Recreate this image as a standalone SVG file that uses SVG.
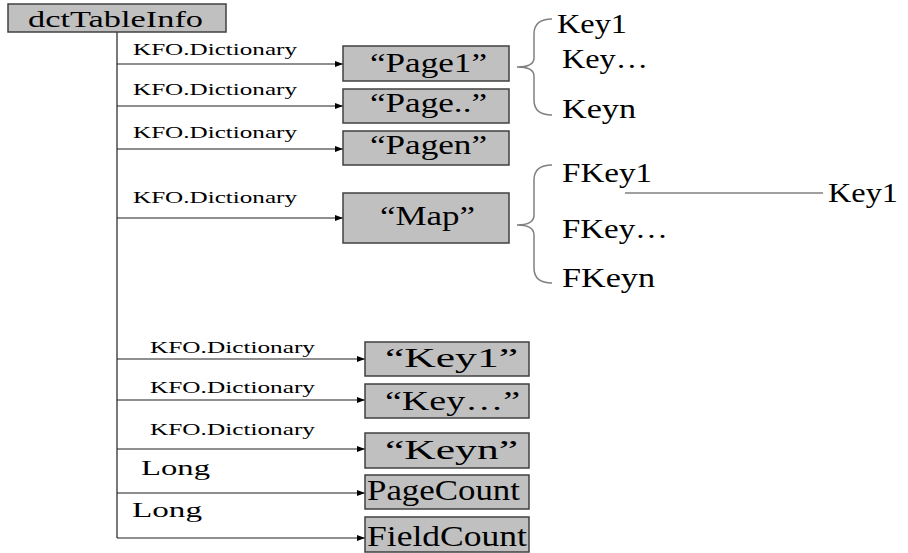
<svg xmlns="http://www.w3.org/2000/svg" width="908" height="553" viewBox="0 0 908 553">
<style>
text{font-family:'Liberation Serif','DejaVu Serif','Times New Roman',serif;fill:#000}
.box{fill:#c0c0c0;stroke:#404040;stroke-width:1.5}
.lbl{font-size:17px}
.big{font-size:27px}
.long{font-size:22px}
.cnt{font-size:29px}
.ln{stroke:#202020;stroke-width:1.2;fill:none}
.br{stroke:#808080;stroke-width:1.5;fill:none}
</style>
<defs>
<marker id="ah" markerWidth="8" markerHeight="6" refX="8" refY="3" orient="auto" markerUnits="userSpaceOnUse">
<path d="M0,0 L8,3 L0,6 Z" fill="#000"/>
</marker>
</defs>
<g id="connectors">
<line class="ln" x1="117" y1="32" x2="117" y2="538"/>
<line class="ln" x1="117" y1="64" x2="343" y2="64" marker-end="url(#ah)"/>
<line class="ln" x1="117" y1="106" x2="343" y2="106" marker-end="url(#ah)"/>
<line class="ln" x1="117" y1="149" x2="343" y2="149" marker-end="url(#ah)"/>
<line class="ln" x1="117" y1="218" x2="343" y2="218" marker-end="url(#ah)"/>
<line class="ln" x1="117" y1="359" x2="365" y2="359" marker-end="url(#ah)"/>
<line class="ln" x1="117" y1="400" x2="365" y2="400" marker-end="url(#ah)"/>
<line class="ln" x1="117" y1="449" x2="365" y2="449" marker-end="url(#ah)"/>
<line class="ln" x1="117" y1="493" x2="365" y2="493" marker-end="url(#ah)"/>
<line class="ln" x1="117" y1="538" x2="365" y2="538" marker-end="url(#ah)"/>
<path class="br" d="M552,19 Q534,19 534,34 L534,58 Q534,67 517,67 Q534,67 534,76 L534,100 Q534,115 552,115"/>
<path class="br" d="M552,165 Q534,165 534,180 L534,215 Q534,225 517,225 Q534,225 534,235 L534,268 Q534,283 552,283"/>
<line x1="625" y1="193" x2="823" y2="193" stroke="#808080" stroke-width="1.5"/>
<text class="lbl" font-family="Liberation Serif, serif" x="133" y="55" textLength="164" lengthAdjust="spacingAndGlyphs">KFO.Dictionary</text>
<text class="lbl" x="133" y="95" textLength="164" lengthAdjust="spacingAndGlyphs">KFO.Dictionary</text>
<text class="lbl" x="133" y="138" textLength="164" lengthAdjust="spacingAndGlyphs">KFO.Dictionary</text>
<text class="lbl" x="133" y="203" textLength="164" lengthAdjust="spacingAndGlyphs">KFO.Dictionary</text>
<text class="lbl" x="150" y="353" textLength="165" lengthAdjust="spacingAndGlyphs">KFO.Dictionary</text>
<text class="lbl" x="150" y="393" textLength="165" lengthAdjust="spacingAndGlyphs">KFO.Dictionary</text>
<text class="lbl" x="150" y="435" textLength="165" lengthAdjust="spacingAndGlyphs">KFO.Dictionary</text>
<text class="long" x="141" y="475" textLength="69" lengthAdjust="spacingAndGlyphs">Long</text>
<text class="long" x="132" y="517" textLength="70" lengthAdjust="spacingAndGlyphs">Long</text>
</g>
<g id="dctTableInfo">
<rect class="box" x="8" y="4" width="218" height="28"/>
<text x="28" y="27" font-size="23" textLength="175" lengthAdjust="spacingAndGlyphs">dctTableInfo</text>
</g>
<g id="page1">
<rect class="box" x="343" y="46" width="166" height="35"/>
<text class="big" x="370" y="72" textLength="117" lengthAdjust="spacingAndGlyphs">“Page1”</text>
</g>
<g id="pageDots">
<rect class="box" x="343" y="89" width="166" height="34"/>
<text class="big" x="370" y="112" textLength="117" lengthAdjust="spacingAndGlyphs">“Page..”</text>
</g>
<g id="pagen">
<rect class="box" x="343" y="131" width="166" height="34"/>
<text class="big" x="370" y="154" textLength="117" lengthAdjust="spacingAndGlyphs">“Pagen”</text>
</g>
<g id="map">
<rect class="box" x="343" y="193" width="166" height="50"/>
<text class="big" x="380" y="225" textLength="95" lengthAdjust="spacingAndGlyphs">“Map”</text>
</g>
<g id="pageKeys">
<text class="big" x="557" y="33" textLength="70" lengthAdjust="spacingAndGlyphs">Key1</text>
<text class="big" x="562" y="68" textLength="86" lengthAdjust="spacingAndGlyphs">Key…</text>
<text class="big" x="562" y="118" textLength="74" lengthAdjust="spacingAndGlyphs">Keyn</text>
</g>
<g id="mapKeys">
<text class="big" x="562" y="182" textLength="90" lengthAdjust="spacingAndGlyphs">FKey1</text>
<text class="big" x="562" y="238" textLength="106" lengthAdjust="spacingAndGlyphs">FKey…</text>
<text class="big" x="562" y="287" textLength="93" lengthAdjust="spacingAndGlyphs">FKeyn</text>
</g>
<g id="key1Target">
<text class="big" x="828" y="202" textLength="70" lengthAdjust="spacingAndGlyphs">Key1</text>
</g>
<g id="key1">
<rect class="box" x="365" y="342" width="164" height="34"/>
<text class="big" x="385" y="367" textLength="133" lengthAdjust="spacingAndGlyphs">“Key1”</text>
</g>
<g id="keyDots">
<rect class="box" x="365" y="384" width="164" height="34"/>
<text class="big" x="385" y="410" textLength="135" lengthAdjust="spacingAndGlyphs">“Key…”</text>
</g>
<g id="keyn">
<rect class="box" x="365" y="433" width="164" height="35"/>
<text class="big" x="385" y="459" textLength="133" lengthAdjust="spacingAndGlyphs">“Keyn”</text>
</g>
<g id="pageCount">
<rect class="box" x="365" y="475" width="164" height="34"/>
<text class="cnt" x="367" y="500" textLength="153" lengthAdjust="spacingAndGlyphs">PageCount</text>
</g>
<g id="fieldCount">
<rect class="box" x="365" y="517" width="164" height="35"/>
<text class="cnt" x="367" y="546" textLength="160" lengthAdjust="spacingAndGlyphs">FieldCount</text>
</g>
</svg>
